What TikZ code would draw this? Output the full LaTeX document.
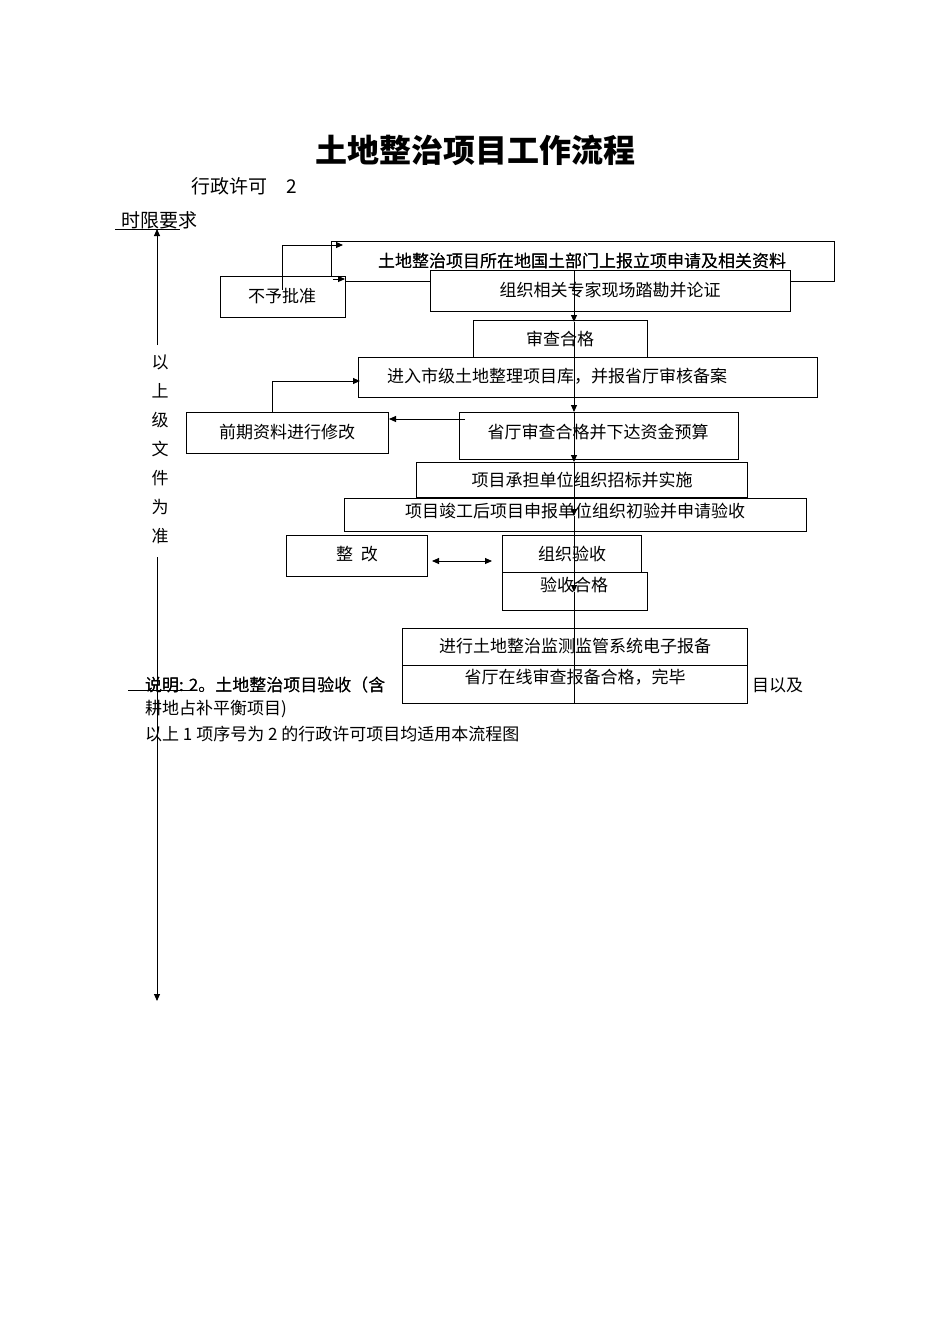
\documentclass[tikz,border=0pt]{standalone}
\usepackage{fontspec}
\setmainfont{Noto Sans CJK SC}
\usetikzlibrary{arrows.meta}
\begin{document}
\begin{tikzpicture}[x=1pt,y=-1pt,
  bx/.style={draw,line width=1pt,fill=white},
  tx/.style={font=\fontsize{17}{20}\selectfont,inner sep=0},
  ar/.style={line width=0.9pt,-{Triangle[length=7pt,width=6pt]}},
  ln/.style={line width=0.9pt}]
\useasboundingbox (0,0) rectangle (950,1344);
\node[font=\fontsize{32}{36}\selectfont\bfseries] (title) at (475,150) {土地整治项目工作流程};
\node[font=\fontsize{19}{22}\selectfont,anchor=west] (xz) at (188,186) {行政许可\quad 2};
\node[font=\fontsize{19}{22}\selectfont,anchor=west,inner sep=0] (sx) at (121,220) {时限要求};
\coordinate (u1) at (115,229); \coordinate (u2) at (180,229);
\draw[ln] (u1) -- (u2);
% notes
\node[tx,anchor=west] (n1) at (145,685) {说明: 2。土地整治项目验收（含};
\node[tx,anchor=west] (n1b) at (752,685) {目以及};
\node[tx,anchor=west] (n2) at (145,709) {耕地占补平衡项目)};
\node[tx,anchor=west] (n3) at (145,734) {以上 1 项序号为 2 的行政许可项目均适用本流程图};
\coordinate (v1) at (128,690); \coordinate (v2) at (190,690);
\draw[ln] (v1) -- (v2);
% boxes
\draw[bx] (331,241) rectangle (834,281); \node[tx] (b1) at (582,261) {土地整治项目所在地国土部门上报立项申请及相关资料};
\draw[bx] (220,276) rectangle (345,317); \node[tx] (bn) at (282,296) {不予批准};
\draw[bx] (430,270) rectangle (790,311); \node[tx] (b2) at (610,290) {组织相关专家现场踏勘并论证};
\draw[bx] (473,320) rectangle (647,357); \node[tx] (b3) at (560,339) {审查合格};
\draw[bx] (358,357) rectangle (817,397); \node[tx] (b4) at (557,376) {进入市级土地整理项目库，并报省厅审核备案};
\draw[bx] (186,412) rectangle (388,453); \node[tx] (bq) at (287,432) {前期资料进行修改};
\draw[bx] (459,412) rectangle (738,459); \node[tx] (b5) at (598,432) {省厅审查合格并下达资金预算};
\draw[bx] (416,462) rectangle (747,497); \node[tx] (b6) at (582,480) {项目承担单位组织招标并实施};
\draw[bx] (344,498) rectangle (806,531); \node[tx] (b7) at (575,511) {项目竣工后项目申报单位组织初验并申请验收};
\draw[bx] (286,535) rectangle (427,576); \node[tx] (bz) at (357,554) {整\ \ 改};
\draw[bx] (502,535) rectangle (641,573); \node[tx] (b8) at (572,554) {组织验收};
\draw[bx] (502,572) rectangle (647,610); \node[tx] (b9) at (574,585) {验收合格};
\draw[bx] (402,628) rectangle (747,665); \node[tx] (b10) at (575,646) {进行土地整治监测监管系统电子报备};
\draw[bx] (402,665) rectangle (747,703); \node[tx] (b11) at (575,677) {省厅在线审查报备合格，完毕};
\node[tx] (b1c) at (582,261) {土地整治项目所在地国土部门上报立项申请及相关资料};
\node[tx] (n1c) at (145,685) {};
% re-draw covered note text left part
\node[tx,anchor=west] at (145,685) {说明: 2。土地整治项目验收（含};
\draw[bx] (402,665) rectangle (747,703); \node[tx] at (575,677) {省厅在线审查报备合格，完毕};
% central line
\coordinate (c0) at (574,270);
\coordinate (c1) at (574,322); \coordinate (c2) at (574,412);
\coordinate (c3) at (574,462); \coordinate (c4) at (574,516);
\coordinate (c5) at (574,592); \coordinate (c6) at (574,703);
\draw[ar] (c0) -- (c1); \draw[ar] (c1) -- (c2); \draw[ar] (c2) -- (c3);
\draw[ar] (c3) -- (c4); \draw[ar] (c4) -- (c5); \draw[ln] (c5) -- (c6);
% feedback
\coordinate (f1) at (333,279); \coordinate (f2) at (345,279);
\draw[ar] (f1) -- (f2);
\coordinate (g1) at (282,290); \coordinate (g2) at (282,245); \coordinate (g3) at (343,245);
\draw[ar] (g1) -- (g2) -- (g3);
\coordinate (h1) at (272,412); \coordinate (h2) at (272,381); \coordinate (h3) at (360,381);
\draw[ar] (h1) -- (h2) -- (h3);
\coordinate (k1) at (465,419); \coordinate (k2) at (389,419);
\draw[ar] (k1) -- (k2);
\coordinate (d1) at (432,561); \coordinate (d2) at (492,561);
\draw[line width=0.9pt,{Triangle[length=7pt,width=6pt]}-{Triangle[length=7pt,width=6pt]}] (d1) -- (d2);
% timeline
\coordinate (t1) at (157,345); \coordinate (t0) at (157,229);
\draw[ar] (t1) -- (t0);
\node[tx,align=center,font=\fontsize{17}{29}\selectfont] (vt) at (160,449) {以\\上\\级\\文\\件\\为\\准};
\coordinate (t2) at (157,557); \coordinate (t3) at (157,1001);
\draw[ar] (t2) -- (t3);
\end{tikzpicture}
\end{document}
